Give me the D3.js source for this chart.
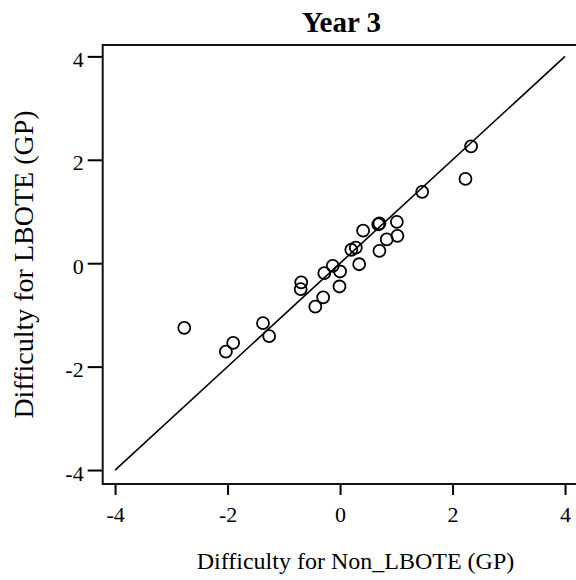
<!DOCTYPE html>
<html>
<head>
<meta charset="utf-8">
<script src="https://cdn.jsdelivr.net/npm/d3@7"></script>
<style>
  body { margin: 0; background: #fff; }
  text { font-family: "Liberation Serif", "Times New Roman", serif; fill: #000; }
</style>
</head>
<body>
<script>
// Item difficulties, Year 3: non-LBOTE (x) vs LBOTE (y)
const nonLbote = [-2.77, -2.03, -1.90, -1.37, -1.26, -0.69, -0.70, -0.44, -0.30, -0.28,
                  -0.13, -0.01, 0.00, 0.20, 0.28, 0.34, 0.41, 0.68, 0.70, 0.70,
                  0.83, 1.01, 1.02, 1.46, 2.23, 2.33];
const lbote    = [-1.25, -1.71, -1.54, -1.16, -1.41, -0.37, -0.50, -0.84, -0.66, -0.19,
                  -0.05, -0.45, -0.16, 0.26, 0.30, -0.02, 0.63, 0.75, 0.77, 0.24,
                  0.46, 0.80, 0.53, 1.38, 1.63, 2.26];
const tickVals = [-4, -2, 0, 2, 4];
const identity = [-4, 4];

const W = 576, H = 580;
// plot frame edges (right edge falls just outside the window)
const frame = {left: 102.7, right: 577.4, top: 45, bottom: 484};

const svg = d3.select("body").append("svg")
  .attr("width", W)
  .attr("height", H);

const x = d3.scaleLinear().domain([-4.22, 4.22]).range([frame.left, frame.right]);
const y = d3.scaleLinear().domain([-4.27, 4.22]).range([frame.bottom, frame.top]);

// plain hyphen for negatives, like the original
const fmt = d => String(d);

// x axis, ticks pointing out of the frame
const xAxis = svg.append("g")
  .attr("transform", `translate(0,${frame.bottom})`)
  .call(d3.axisBottom(x).tickValues(tickVals).tickFormat(fmt).tickSize(11).tickSizeOuter(0));
xAxis.select(".domain").remove();
xAxis.selectAll(".tick line").attr("stroke", "#000").attr("stroke-width", 2);
xAxis.selectAll(".tick text")
  .attr("y", 38).attr("dy", 0)
  .attr("font-size", 22)
  .attr("font-family", "Liberation Serif");

// y axis
const yAxis = svg.append("g")
  .attr("transform", `translate(${frame.left},0)`)
  .call(d3.axisLeft(y).tickValues(tickVals).tickFormat(fmt).tickSize(15).tickSizeOuter(0));
yAxis.select(".domain").remove();
yAxis.selectAll(".tick line").attr("stroke", "#000").attr("stroke-width", 2);
yAxis.selectAll(".tick text")
  .attr("x", -19).attr("dy", 10)
  .attr("font-size", 22)
  .attr("font-family", "Liberation Serif");

// frame
svg.append("rect")
  .attr("x", frame.left).attr("y", frame.top)
  .attr("width", frame.right - frame.left).attr("height", frame.bottom - frame.top)
  .attr("fill", "none")
  .attr("stroke", "#111")
  .attr("stroke-width", 2);

// reference line y = x
svg.append("line")
  .attr("x1", x(identity[0])).attr("y1", y(identity[0]))
  .attr("x2", x(identity[1])).attr("y2", y(identity[1]))
  .attr("stroke", "#000")
  .attr("stroke-width", 1.6);

// points
svg.append("g").selectAll("circle")
  .data(nonLbote.map((v, i) => [v, lbote[i]]))
  .join("circle")
  .attr("cx", d => x(d[0]))
  .attr("cy", d => y(d[1]))
  .attr("r", 6)
  .attr("fill", "none")
  .attr("stroke", "#000")
  .attr("stroke-width", 1.8);

// title and axis labels
svg.append("text")
  .attr("x", 341.5).attr("y", 32)
  .attr("text-anchor", "middle")
  .attr("font-size", 29)
  .attr("font-weight", "bold")
  .text("Year 3");

svg.append("text")
  .attr("x", 355.5).attr("y", 569)
  .attr("text-anchor", "middle")
  .attr("font-size", 24)
  .text("Difficulty for Non_LBOTE (GP)");

svg.append("text")
  .attr("transform", "translate(33,264.5) rotate(-90)")
  .attr("text-anchor", "middle")
  .attr("font-size", 28)
  .text("Difficulty for LBOTE (GP)");
</script>
</body>
</html>
